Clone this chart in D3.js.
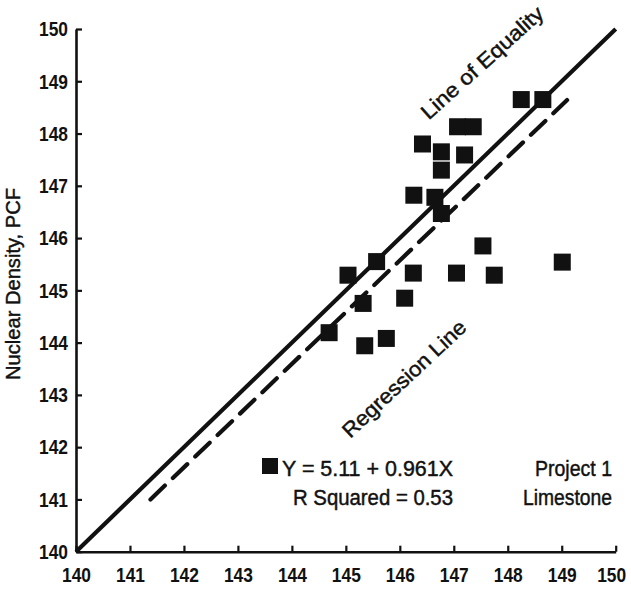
<!DOCTYPE html>
<html>
<head>
<meta charset="utf-8">
<script src="https://cdn.jsdelivr.net/npm/d3@7"></script>
<style>
  html, body { margin: 0; padding: 0; background: #fff; }
  svg { display: block; }
  text { font-family: "Liberation Sans", Arial, sans-serif; fill: #111; }
  text.med { stroke: #111; stroke-width: 0.45px; }
</style>
</head>
<body>
<svg id="chart" width="631" height="590"></svg>
<script>
// ---- data ----
const xTicks = [140, 141, 142, 143, 144, 145, 146, 147, 148, 149, 150];
const yTicks = [140, 141, 142, 143, 144, 145, 146, 147, 148, 149, 150];
const xValues = [148.25, 148.65, 147.07, 147.36, 146.42, 146.77, 147.20, 146.77, 146.26, 146.65, 146.77, 147.54, 149.01, 145.57, 145.04, 146.25, 147.05, 147.75, 146.09, 145.32, 144.69, 145.35, 145.75];
const yValues = [148.65, 148.65, 148.13, 148.13, 147.80, 147.65, 147.59, 147.30, 146.82, 146.78, 146.47, 145.85, 145.54, 145.55, 145.29, 145.33, 145.33, 145.29, 144.85, 144.75, 144.19, 143.94, 144.08];
const equalityX = [140, 150];
const equalityY = [140, 150];
const regressionX = [141.38, 149.1];
const regressionY = [141.0, 148.64];
const yTitle = "Nuclear Density, PCF";
const equalityLabel = "Line of Equality";
const regressionLabel = "Regression Line";
const legendLines = ["Y = 5.11 + 0.961X", "R Squared = 0.53"];
const projectLines = ["Project 1", "Limestone"];

// ---- scales ----
const svg = d3.select("#chart");
const x = d3.scaleLinear().domain([140, 150]).range([76, 615.7]);
const y = d3.scaleLinear().domain([140, 150]).range([551.7, 29]);

function squeeze(sel, len) {
  sel.attr("textLength", len).attr("lengthAdjust", "spacingAndGlyphs");
}

// ---- axes ----
const xAxis = d3.axisBottom(x).tickValues(xTicks).tickSizeInner(-6).tickSizeOuter(0).tickPadding(15).tickFormat(d3.format("d"));
const yAxis = d3.axisLeft(y).tickValues(yTicks).tickSizeInner(-6).tickSizeOuter(0).tickPadding(8).tickFormat(d3.format("d"));

const gx = svg.append("g").attr("transform", `translate(0,${y(140)})`).call(xAxis);
const gy = svg.append("g").attr("transform", `translate(${x(140)},0)`).call(yAxis);
[gx, gy].forEach(g => {
  g.select(".domain").attr("stroke", "#111").attr("stroke-width", 2.6);
  g.selectAll(".tick line").attr("stroke", "#111").attr("stroke-width", 2.2);
  g.selectAll(".tick text").attr("font-size", 21).attr("font-weight", "bold")
    .attr("font-family", '"Liberation Sans", Arial, sans-serif').attr("fill", "#111")
    .call(squeeze, 29);
});
// keep the last x label inside the frame
gx.selectAll(".tick text").filter(d => d === 150).attr("x", -4.5);

// ---- y title ----
svg.append("text").attr("class", "med")
  .attr("transform", `translate(20,284) rotate(-90)`)
  .attr("text-anchor", "middle")
  .attr("font-size", 20)
  .call(squeeze, 192)
  .text(yTitle);

// ---- lines ----
const line = d3.line().x(d => x(d[0])).y(d => y(d[1]));
svg.append("path")
  .datum(d3.zip(equalityX, equalityY))
  .attr("d", line)
  .attr("fill", "none").attr("stroke", "#111").attr("stroke-width", 4.2);

svg.append("path")
  .datum(d3.zip(regressionX, regressionY))
  .attr("d", line)
  .attr("fill", "none").attr("stroke", "#111").attr("stroke-width", 4.2)
  .attr("stroke-dasharray", "20,11").attr("stroke-linecap", "round");

// ---- points ----
const sq = 17;
svg.append("g").selectAll("rect")
  .data(d3.zip(xValues, yValues))
  .join("rect")
  .attr("x", d => x(d[0]) - sq / 2)
  .attr("y", d => y(d[1]) - sq / 2)
  .attr("width", sq).attr("height", sq)
  .attr("fill", "#111");

// ---- rotated labels ----
svg.append("text").attr("class", "med")
  .attr("transform", `translate(487,68) rotate(-42)`)
  .attr("text-anchor", "middle")
  .attr("font-size", 21)
  .call(squeeze, 157)
  .text(equalityLabel);

svg.append("text").attr("class", "med")
  .attr("transform", `translate(409,384) rotate(-43)`)
  .attr("text-anchor", "middle")
  .attr("font-size", 21)
  .call(squeeze, 161)
  .text(regressionLabel);

// ---- legend ----
svg.append("rect").attr("x", 262).attr("y", 458).attr("width", 16).attr("height", 16).attr("fill", "#111");
svg.append("text").attr("class", "med").attr("x", 282).attr("y", 476).attr("font-size", 22).call(squeeze, 171).text(legendLines[0]);
svg.append("text").attr("class", "med").attr("x", 293).attr("y", 505).attr("font-size", 22).call(squeeze, 160).text(legendLines[1]);
svg.append("text").attr("class", "med").attr("x", 535).attr("y", 476).attr("font-size", 22).call(squeeze, 77).text(projectLines[0]);
svg.append("text").attr("class", "med").attr("x", 523).attr("y", 505).attr("font-size", 22).call(squeeze, 89).text(projectLines[1]);
</script>
</body>
</html>
